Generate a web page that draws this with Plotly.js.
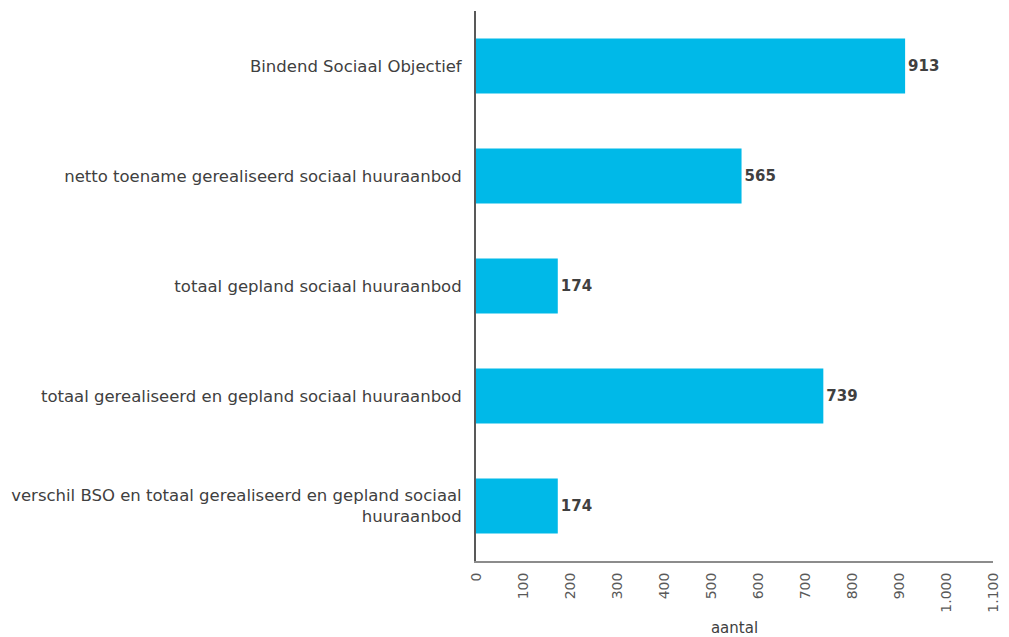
<!DOCTYPE html>
<html>
<head>
<meta charset="utf-8">
<script src="https://cdn.plot.ly/plotly-3.0.1.min.js"></script>
<style>html,body{margin:0;padding:0;background:#fff;}#chart{width:1009px;height:637px;}</style>
</head>
<body>
<div id="chart"></div>
<script>
const categories = [
  "Bindend Sociaal Objectief",
  "netto toename gerealiseerd sociaal huuraanbod",
  "totaal gepland sociaal huuraanbod",
  "totaal gerealiseerd en gepland sociaal huuraanbod",
  "verschil BSO en totaal gerealiseerd en gepland sociaal<br>huuraanbod"
];
const values = [913, 565, 174, 739, 174];
const xTicks = [0, 100, 200, 300, 400, 500, 600, 700, 800, 900, 1000, 1100];

const trace = {
  type: 'bar',
  orientation: 'h',
  y: categories,
  x: values,
  marker: {color: '#00B9E8'},
  width: 0.5,
  text: values.map(v => '<b>' + v + '</b>'),
  textposition: 'outside',
  cliponaxis: false,
  textfont: {family: 'DejaVu Sans, sans-serif', size: 15, color: '#404040'},
  hoverinfo: 'none'
};

const layout = {
  width: 1009,
  height: 637,
  margin: {l: 476, r: 16, t: 11, b: 76},
  paper_bgcolor: '#ffffff',
  plot_bgcolor: '#ffffff',
  separators: ',.',
  font: {family: 'DejaVu Sans, sans-serif', size: 15, color: '#404040'},
  showlegend: false,
  xaxis: {
    range: [0, 1100],
    tickvals: xTicks,
    tickangle: -90,
    tickformat: ',d',
    separatethousands: true,
    showgrid: false,
    zeroline: false,
    showline: true,
    linecolor: '#8c8c8c',
    linewidth: 2,
    ticks: '',
    ticklabelstandoff: 4,
    tickfont: {size: 14, color: '#595959'},
    title: {text: 'aantal', font: {size: 15, color: '#404040'}, standoff: 14}
  },
  yaxis: {
    type: 'category',
    categoryorder: 'array',
    categoryarray: categories,
    autorange: 'reversed',
    showgrid: false,
    zeroline: false,
    showline: true,
    linecolor: '#595959',
    linewidth: 2,
    ticks: '',
    ticklabelstandoff: 9,
    tickfont: {size: 16.5, color: '#404040'}
  }
};

Plotly.newPlot('chart', [trace], layout, {displayModeBar: false, staticPlot: true});
</script>
</body>
</html>
